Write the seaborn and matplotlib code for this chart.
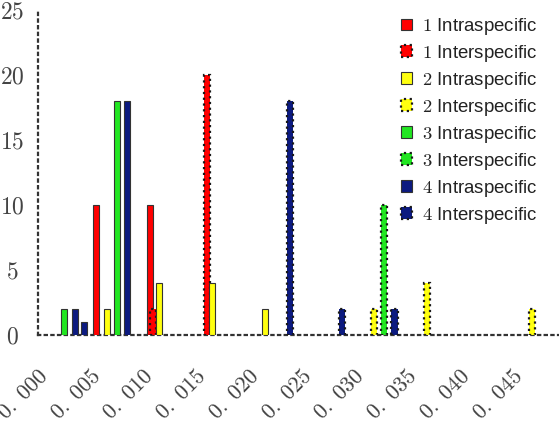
import numpy as np
import pandas as pd
import seaborn as sns
import matplotlib.pyplot as plt
from matplotlib.patches import Patch
from matplotlib.ticker import FuncFormatter
from matplotlib.transforms import ScaledTranslation

# distances (x) and counts (n)
g1_intra_x = [0.0055, 0.0106]
g1_intra_n = [10, 10]
g1_inter_x = [0.0109, 0.0160]
g1_inter_n = [2, 20]
g2_intra_x = [0.00655, 0.0115, 0.0165, 0.0215]
g2_intra_n = [2, 4, 4, 2]
g2_inter_x = [0.0319, 0.0369, 0.0468]
g2_inter_n = [2, 4, 2]
g3_intra_x = [0.0025, 0.0075]
g3_intra_n = [2, 18]
g3_inter_x = [0.0328]
g3_inter_n = [10]
g4_intra_x = [0.0035, 0.0044, 0.0084]
g4_intra_n = [2, 1, 18]
g4_inter_x = [0.0239, 0.0288, 0.0338]
g4_inter_n = [18, 2, 2]

groups = ["1", "2", "3", "4"]
kinds = ["Intraspecific", "Interspecific"]
colors = ["#ff0000", "#ffff10", "#22e622", "#0c1a80"]
yticks = [0, 5, 10, 15, 20, 25]
xticks = [0.000, 0.005, 0.010, 0.015, 0.020, 0.025, 0.030, 0.035, 0.040, 0.045]

series = [
    (g1_intra_x, g1_intra_n), (g1_inter_x, g1_inter_n),
    (g2_intra_x, g2_intra_n), (g2_inter_x, g2_inter_n),
    (g3_intra_x, g3_intra_n), (g3_inter_x, g3_inter_n),
    (g4_intra_x, g4_intra_n), (g4_inter_x, g4_inter_n),
]
rows = []
i = 0
for g in groups:
    for k in kinds:
        xs, ns = series[i]
        for x, n in zip(xs, ns):
            rows.append({"group": g, "kind": k, "dist": x, "count": n})
        i += 1
df = pd.DataFrame(rows)

sns.set_theme(style="white")
plt.rcParams["mathtext.fontset"] = "cm"
plt.rcParams["font.family"] = ["Liberation Sans", "DejaVu Sans"]

fig = plt.figure(figsize=(5.59, 4.28), dpi=100)
ax = fig.add_axes([38 / 559, 93 / 428, 1 - 38 / 559, 325 / 428])

handles = []
for g, c in zip(groups, colors):
    for k in kinds:
        sub = df[(df["group"] == g) & (df["kind"] == k)]
        if k == "Intraspecific":
            ls, ec, lw = "-", "#333333", 0.8
        else:
            ls, ec, lw = (0, (1, 1.6)), "#1a1a1a", 1.6
        ax.bar(sub["dist"], sub["count"], width=0.00058, color=c,
               edgecolor=ec, linewidth=lw, linestyle=ls, zorder=3)
        handles.append(Patch(facecolor=c, edgecolor=ec, linewidth=lw,
                             linestyle=ls, label=f"${g}$ {k}"))

ax.set_xlim(0, 0.0494)
ax.set_ylim(0, 25)
ax.set_xticks(xticks)
ax.set_yticks(yticks)
ax.xaxis.set_major_formatter(FuncFormatter(lambda v, p: f"$0.\\ {int(round(v * 1000)):03d}$"))
ax.yaxis.set_major_formatter(FuncFormatter(lambda v, p: f"${int(v)}$"))
ax.tick_params(direction="in", length=3, width=0.8, color="#555555",
               labelsize=17, labelcolor="#444444")
ax.tick_params(axis="x", labelsize=16, pad=22)
ax.tick_params(axis="y", pad=18.4)

for lab in ax.get_yticklabels():
    lab.set_ha("center")

for lab in ax.get_xticklabels():
    lab.set_rotation(45)
    lab.set_ha("right")
    lab.set_transform(lab.get_transform() + ScaledTranslation(15 / 100, 0, fig.dpi_scale_trans))

sns.despine(ax=ax)
for s in ["left", "bottom"]:
    ax.spines[s].set_linestyle((0, (1, 2)))
    ax.spines[s].set_linewidth(1.6)
    ax.spines[s].set_color("#333333")

ax.legend(handles=handles, loc="upper left", bbox_to_anchor=(401 / 559, 1 - 16 / 428),
          bbox_transform=fig.transFigure, frameon=False, borderpad=0, borderaxespad=0,
          fontsize=13.4, handlelength=0.6, handleheight=0.6, handletextpad=0.55,
          labelspacing=0.32, labelcolor="#222222")

fig.savefig("out.png", dpi=100)
